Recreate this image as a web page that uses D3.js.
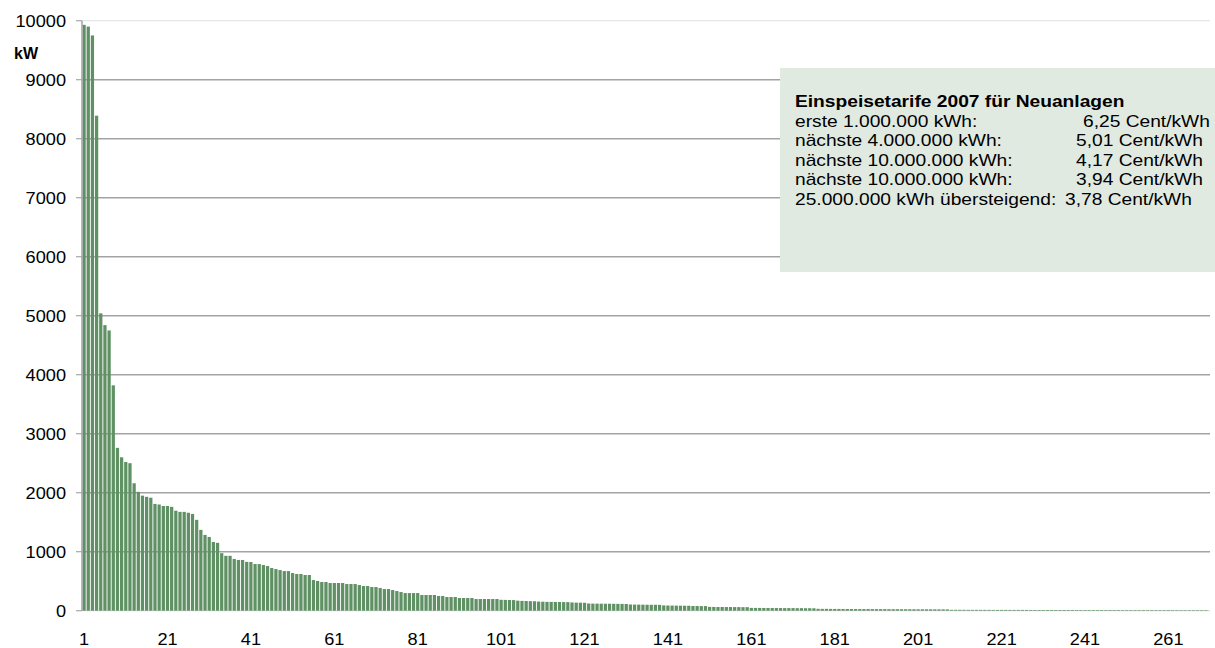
<!DOCTYPE html>
<html>
<head>
<meta charset="utf-8">
<script src="https://cdn.jsdelivr.net/npm/d3@7"></script>
<style>
  html, body { margin: 0; padding: 0; background: #fff; }
  svg { display: block; }
  text { font-family: "Liberation Sans", Arial, sans-serif; fill: #000; }
</style>
</head>
<body>
<svg id="chart" width="1215" height="648"></svg>
<script>
// ---- Data ----
const values = [
  9930, 9900, 9750, 8390, 5040, 4840, 4750, 3820, 2760, 2600,
  2520, 2500, 2160, 2015, 1950, 1930, 1915, 1810, 1800, 1775,
  1775, 1760, 1695, 1675, 1675, 1660, 1640, 1540, 1370, 1285,
  1250, 1165, 1150, 975, 930, 930, 877, 860, 860, 828,
  825, 791, 791, 774, 757, 723, 706, 689, 672, 672,
  638, 622, 622, 605, 605, 520, 503, 486, 486, 469,
  469, 469, 469, 452, 452, 452, 435, 418, 418, 401,
  401, 384, 367, 367, 350, 333, 316, 299, 299, 299,
  299, 266, 266, 266, 266, 249, 249, 232, 232, 232,
  215, 215, 215, 215, 198, 198, 198, 198, 198, 198,
  185, 183, 181, 180, 170, 166, 164, 162, 160, 155,
  152, 150, 149, 148, 147, 146, 145, 140, 137, 136,
  134, 122, 120, 120, 119, 118, 118, 117, 116, 115,
  114, 105, 104, 103, 102, 101, 100, 100, 99, 90,
  88, 87, 86, 85, 84, 84, 80, 79, 78, 78,
  65, 64, 63, 63, 62, 62, 61, 61, 60, 60,
  48, 47, 47, 46, 46, 45, 45, 45, 44, 44,
  44, 43, 43, 42, 42, 41, 32, 31, 31, 30,
  30, 30, 29, 29, 29, 28, 28, 28, 28, 27,
  27, 27, 27, 26, 26, 26, 25, 25, 25, 25,
  24, 24, 24, 24, 23, 23, 23, 22, 15, 15,
  15, 15, 14, 14, 14, 14, 14, 14, 13, 13,
  13, 13, 13, 13, 13, 13, 13, 12, 12, 12,
  12, 12, 12, 12, 12, 12, 12, 12, 11, 11,
  11, 11, 11, 11, 11, 11, 11, 11, 11, 10,
  10, 10, 10, 10, 10, 10, 10, 10, 10, 10,
  10, 10, 9, 9, 9, 9, 9, 9, 9, 9
];
const categories = values.map((d, i) => String(i + 1));
const xTickLabels = ["1", "21", "41", "61", "81", "101", "121", "141", "161", "181", "201", "221", "241", "261"];
const yTickValues = [0, 1000, 2000, 3000, 4000, 5000, 6000, 7000, 8000, 9000, 10000];
const yUnit = "kW";
const legendTitle = "Einspeisetarife 2007 für Neuanlagen";
const legendLabels = ["erste 1.000.000 kWh:", "nächste 4.000.000 kWh:", "nächste 10.000.000 kWh:", "nächste 10.000.000 kWh:", "25.000.000 kWh übersteigend:"];
const legendValues = ["6,25 Cent/kWh", "5,01 Cent/kWh", "4,17 Cent/kWh", "3,94 Cent/kWh", "3,78 Cent/kWh"];

// ---- Layout ----
const svg = d3.select("#chart");
const plot = { left: 82, right: 1208, gridRight: 1210, top: 20.7, bottom: 610.7 };

const x = d3.scaleBand()
  .domain(categories)
  .range([plot.left, plot.right])
  .paddingInner(0.22)
  .paddingOuter(0.11);

const y = d3.scaleLinear()
  .domain([0, 10000])
  .range([plot.bottom, plot.top]);

// Gridlines
svg.append("g")
  .selectAll("line")
  .data(yTickValues)
  .join("line")
  .attr("x1", plot.left)
  .attr("x2", plot.gridRight)
  .attr("y1", d => y(d))
  .attr("y2", d => y(d))
  .attr("stroke", d => d === 10000 ? "#e6e6e6" : (d === 0 ? "#dcdcdc" : "#a3a3a3"))
  .attr("stroke-width", d => d === 0 || d === 10000 ? 1.2 : 1.5);

// Bars
svg.append("g")
  .selectAll("rect")
  .data(values)
  .join("rect")
  .attr("x", (d, i) => x(categories[i]))
  .attr("width", x.bandwidth())
  .attr("y", d => y(d))
  .attr("height", d => y(0) - y(d))
  .attr("fill", "#5f9164");

// Y axis line and ticks
svg.append("line")
  .attr("x1", plot.left).attr("x2", plot.left)
  .attr("y1", y(10000)).attr("y2", y(0))
  .attr("stroke", "#a8a8a8").attr("stroke-width", 1.6);

svg.append("g")
  .selectAll("line")
  .data(yTickValues)
  .join("line")
  .attr("x1", 76).attr("x2", plot.left)
  .attr("y1", d => y(d)).attr("y2", d => y(d))
  .attr("stroke", "#a8a8a8").attr("stroke-width", 1.2);

// Y tick labels
svg.append("g")
  .selectAll("text")
  .data(yTickValues)
  .join("text")
  .attr("transform", d => `translate(66,${y(d) + 6}) scale(1.07,1)`)
  .attr("text-anchor", "end")
  .attr("font-size", "17px")
  .text(d => d);

// Unit label
svg.append("text")
  .attr("x", 14).attr("y", 59)
  .attr("font-size", "16px")
  .attr("font-weight", "bold")
  .text(yUnit);

// X tick labels
svg.append("g")
  .selectAll("text")
  .data(xTickLabels)
  .join("text")
  .attr("transform", d => `translate(${x(d) + x.bandwidth() / 2},645) scale(1.07,1)`)
  .attr("text-anchor", "middle")
  .attr("font-size", "17px")
  .text(d => d);

// Legend / info box
const box = svg.append("g");
box.append("rect")
  .attr("x", 780).attr("y", 68)
  .attr("width", 440).attr("height", 204)
  .attr("fill", "#e1eae1");

const sx = 1.2;
box.append("text")
  .attr("transform", `translate(795,107) scale(${sx},1)`)
  .attr("font-size", "16px")
  .attr("font-weight", "bold")
  .text(legendTitle);

const rowY = [126.5, 146, 165.5, 185, 204.5];
const valX = [1083, 1076, 1076, 1076, 1065];
box.append("g")
  .selectAll("text")
  .data(legendLabels)
  .join("text")
  .attr("transform", (d, i) => `translate(795,${rowY[i]}) scale(${sx},1)`)
  .attr("font-size", "16px")
  .text(d => d);

box.append("g")
  .selectAll("text")
  .data(legendValues)
  .join("text")
  .attr("transform", (d, i) => `translate(${valX[i]},${rowY[i]}) scale(${sx},1)`)
  .attr("font-size", "16px")
  .text(d => d);
</script>
</body>
</html>
